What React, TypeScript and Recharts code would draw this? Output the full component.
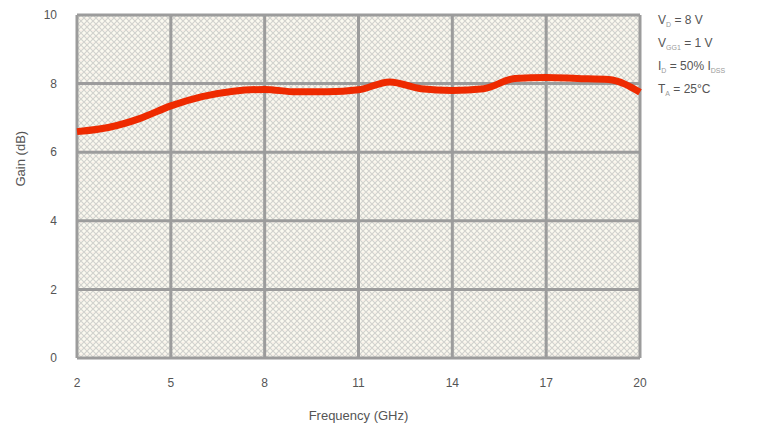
import React from "react";
import { LineChart, Line, XAxis, YAxis, CartesianGrid } from "recharts";

const frequency = [2, 3, 4, 5, 6, 7, 8, 9, 10, 11, 12, 13, 14, 15, 16, 17, 18, 19, 20];
const gain = [6.6, 6.72, 6.98, 7.35, 7.62, 7.78, 7.83, 7.76, 7.76, 7.82, 8.05, 7.85, 7.8, 7.85, 8.15, 8.18, 8.15, 8.12, 7.75];
const xTicks = [2, 5, 8, 11, 14, 17, 20];
const yTicks = [0, 2, 4, 6, 8, 10];

const data = frequency.map((f, i) => ({ f, g: gain[i] }));

const textColor = "#555";
const font = "'Liberation Sans', Arial, sans-serif";

export default function App() {
  return (
    <div style={{ position: "absolute", left: 0, top: 0, width: 763, height: 430, background: "#fff" }}>
      <LineChart width={763} height={430} data={data} margin={{ top: 15, right: 123, bottom: 0, left: 0 }}>
        <defs>
          <pattern id="hatch" width="6" height="6" patternUnits="userSpaceOnUse">
            <rect width="6" height="6" fill="#fbfaf0" />
            <path d="M0,0 L6,6 M6,0 L0,6" stroke="#d2d2ce" strokeWidth="1.2" />
            <circle cx="3" cy="0" r="0.6" fill="#f8d4d4" />
          </pattern>
        </defs>
        <CartesianGrid
          fill="url(#hatch)"
          fillOpacity={1}
          stroke="#9c9c9c"
          strokeWidth={3}
          horizontalValues={yTicks}
          verticalValues={xTicks}
        />
        <XAxis
          dataKey="f"
          type="number"
          domain={[2, 20]}
          ticks={xTicks}
          axisLine={false}
          tickLine={false}
          height={72}
          tickMargin={14}
          tick={{ fill: textColor, fontSize: 12, fontFamily: font }}
          label={{ value: "Frequency (GHz)", position: "insideBottom", offset: 10, fill: textColor, fontSize: 13, fontFamily: font }}
        />
        <YAxis
          type="number"
          domain={[0, 10]}
          ticks={yTicks}
          axisLine={false}
          tickLine={false}
          width={77}
          tickMargin={14}
          tick={{ fill: textColor, fontSize: 12, fontFamily: font }}
          label={{ value: "Gain (dB)", angle: -90, position: "insideLeft", offset: 20, fill: textColor, fontSize: 13, fontFamily: font }}
        />
        <Line
          dataKey="g"
          type="monotone"
          stroke="#ee2a00"
          strokeWidth={7}
          dot={false}
          isAnimationActive={false}
        />
      </LineChart>
      <svg width={120} height={110} style={{ position: "absolute", left: 650, top: 0 }}>
        <g fill={textColor} fontFamily={font} fontSize={12}>
          <text x={8} y={24}>V<tspan fontSize={7} dy={3} fill="#999">D</tspan><tspan dy={-3}> = 8 V</tspan></text>
          <text x={8} y={47}>V<tspan fontSize={7} dy={3} fill="#999">GG1</tspan><tspan dy={-3}> = 1 V</tspan></text>
          <text x={8} y={70}>I<tspan fontSize={7} dy={3} fill="#999">D</tspan><tspan dy={-3}> = 50% I</tspan><tspan fontSize={7} dy={3} fill="#999">DSS</tspan></text>
          <text x={8} y={93}>T<tspan fontSize={7} dy={3} fill="#999">A</tspan><tspan dy={-3}> = 25°C</tspan></text>
        </g>
      </svg>
    </div>
  );
}
